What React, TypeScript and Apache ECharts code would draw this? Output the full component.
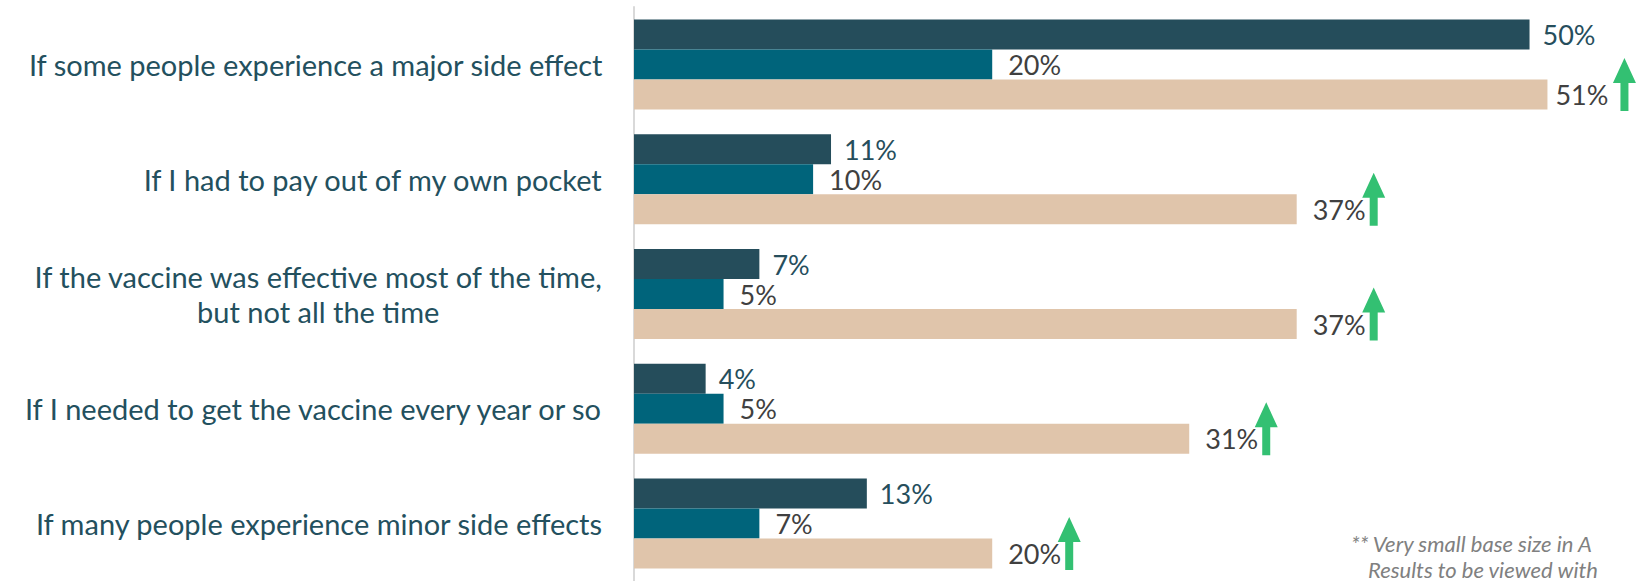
import React, { useEffect, useRef } from "react";
import * as echarts from "echarts";

const categories = [
  "If some people experience a major side effect",
  "If I had to pay out of my own pocket",
  "If the vaccine was effective most of the time,\nbut not all the time",
  "If I needed to get the vaccine every year or so",
  "If many people experience minor side effects",
];
const seriesDark = [50, 11, 7, 4, 13];
const seriesTeal = [20, 10, 5, 5, 7];
const seriesBeige = [51, 37, 37, 31, 20];
const footnoteLines = ["** Very small base size in A", "Results to be viewed with"];

const FONT = "Lato";
const ARROW = "path://M11.5,0 L23,25 L15.5,25 L15.5,53 L7.5,53 L7.5,25 L0,25 Z";

export default function App() {
  const ref = useRef<HTMLDivElement>(null);
  useEffect(() => {
    document.body.style.margin = "0";
    const chart = echarts.init(ref.current!, null, { renderer: "svg" });
    const pct = (p: any) => p.value + "%";
    chart.setOption({
      animation: false,
      grid: { left: 634, width: 1004, top: 7, height: 576 },
      xAxis: { type: "value", min: 0, max: 56, show: false },
      yAxis: {
        type: "category",
        inverse: true,
        data: categories,
        axisTick: { show: false },
        axisLine: { lineStyle: { color: "#d9d9d9", width: 2 } },
        axisLabel: {
          margin: 31,
          formatter: (v: string) => v.split("\n").map((l) => `{c|${l}}`).join("\n"),
          rich: {
            c: { align: "center", fontSize: 29, lineHeight: 35, color: "#23505e", fontFamily: FONT },
          },
        },
      },
      series: [
        {
          name: "Dark",
          type: "bar",
          data: seriesDark,
          barWidth: 30,
          barGap: "0%",
          barCategoryGap: "22%",
          itemStyle: { color: "#254d5b" },
          label: { show: true, position: "right", distance: 13, formatter: pct, fontSize: 27, fontFamily: FONT, color: "#264e5c" },
        },
        {
          name: "Teal",
          type: "bar",
          data: seriesTeal,
          barWidth: 30,
          barGap: "0%",
          itemStyle: { color: "#00647b" },
          label: { show: true, position: "right", distance: 16, formatter: pct, fontSize: 27, fontFamily: FONT, color: "#404040" },
        },
        {
          name: "Beige",
          type: "bar",
          data: seriesBeige.map((v, i) => (i === 0 ? { value: v, label: { distance: 8 } } : v)),
          barWidth: 30,
          barGap: "0%",
          itemStyle: { color: "#e0c5ab" },
          label: { show: true, position: "right", distance: 16, formatter: pct, fontSize: 27, fontFamily: FONT, color: "#404040" },
        },
        {
          name: "Increase",
          type: "scatter",
          data: seriesBeige.map((v, i) => [v, categories[i]]),
          symbol: ARROW,
          symbolSize: [23, 53],
          symbolOffset: [77, 20],
          itemStyle: { color: "#00b04f" },
          z: 5,
          silent: true,
        },
      ],
      graphic: [
        {
          type: "text",
          x: 1351,
          y: 543,
          style: { text: footnoteLines[0], fontSize: 22, fontStyle: "italic", fontFamily: FONT, fill: "#808080", verticalAlign: "middle" },
        },
        {
          type: "text",
          x: 1368,
          y: 569,
          style: { text: footnoteLines[1], fontSize: 22, fontStyle: "italic", fontFamily: FONT, fill: "#808080", verticalAlign: "middle" },
        },
      ],
    });
    return () => chart.dispose();
  }, []);
  return <div ref={ref} style={{ width: 1637, height: 581 }} />;
}
